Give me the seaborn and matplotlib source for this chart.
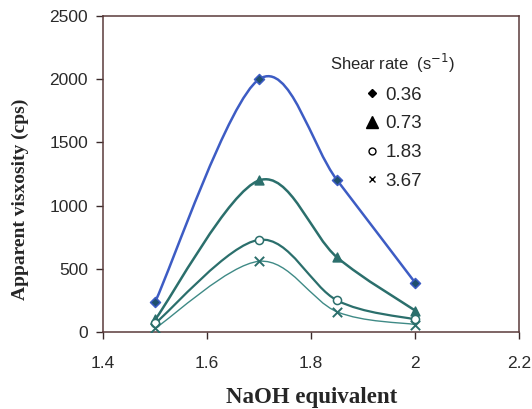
import numpy as np
import pandas as pd
import seaborn as sns
import matplotlib.pyplot as plt
from matplotlib.path import Path
from matplotlib.patches import PathPatch
from matplotlib.lines import Line2D

# Data
naoh_eq = [1.5, 1.7, 1.85, 2.0]
shear_rates = ["0.36", "0.73", "1.83", "3.67"]
visc_036 = [240, 2000, 1200, 390]
visc_073 = [100, 1200, 590, 170]
visc_183 = [70, 730, 250, 100]
visc_367 = [30, 560, 160, 60]

series = {"0.36": visc_036, "0.73": visc_073, "1.83": visc_183, "3.67": visc_367}
df = pd.DataFrame([(x, y, s) for s, ys in series.items() for x, y in zip(naoh_eq, ys)],
                  columns=["NaOH", "visc", "rate"])

line_col = {"0.36": "#3d5cc4", "0.73": "#2b6f6c", "1.83": "#2b6f6c", "3.67": "#3f8a86"}
line_w = {"0.36": 1.8, "0.73": 1.8, "1.83": 1.6, "3.67": 1.0}
mk = {"0.36": "D", "0.73": "^", "1.83": "o", "3.67": "x"}
mk_face = {"0.36": "#1f4f6e", "0.73": "#2b6f6c", "1.83": "white", "3.67": "#2b6f6c"}
mk_size = {"0.36": 26, "0.73": 40, "1.83": 34, "3.67": 45}


def smooth_path(xs, ys):
    # Excel-like smoothed line: cubic Bezier segments through the data points
    pts = np.column_stack([xs, ys]).astype(float)
    n = len(pts)
    verts = [pts[0]]
    codes = [Path.MOVETO]
    for i in range(n - 1):
        p0 = pts[i - 1] if i > 0 else pts[i]
        p1, p2 = pts[i], pts[i + 1]
        p3 = pts[i + 2] if i + 2 < n else pts[i + 1]
        c1 = p1 + (p2 - p0) / 6
        c2 = p2 - (p3 - p1) / 6
        verts += [c1, c2, p2]
        codes += [Path.CURVE4] * 3
    return Path(verts, codes)


sns.set_theme(style="white")
plt.rcParams['font.family'] = ['Liberation Sans', 'DejaVu Sans']

fig, ax = plt.subplots(figsize=(5.32, 4.09), dpi=100)
fig.subplots_adjust(left=0.194, right=0.976, bottom=0.188, top=0.961)

for rate in shear_rates:
    sub = df[df["rate"] == rate]
    ax.add_patch(PathPatch(smooth_path(sub["NaOH"], sub["visc"]), fill=False,
                           edgecolor=line_col[rate], lw=line_w[rate], zorder=2))
    if mk[rate] == "x":
        sns.scatterplot(data=sub, x="NaOH", y="visc", marker="x", color=mk_face[rate],
                        s=mk_size[rate], linewidth=1.4, ax=ax, zorder=3)
    else:
        sns.scatterplot(data=sub, x="NaOH", y="visc", marker=mk[rate], color=mk_face[rate],
                        edgecolor=line_col[rate], s=mk_size[rate], linewidth=1.1, ax=ax, zorder=3)

ax.set_xlim(1.4, 2.2)
ax.set_ylim(0, 2500)
ax.set_xticks([1.4, 1.6, 1.8, 2.0, 2.2])
ax.set_xticklabels(["1.4", "1.6", "1.8", "2", "2.2"])
ax.set_yticks([0, 500, 1000, 1500, 2000, 2500])
ax.tick_params(axis="both", direction="out", length=5, width=1, colors="#3a2a2a",
               labelsize=12.5, labelcolor="#2a2a2a", bottom=True, left=True)
ax.tick_params(axis="x", pad=12)
ax.tick_params(axis="y", pad=6)

for sp in ax.spines.values():
    sp.set_visible(True)
    sp.set_color("#5a3a3a")
    sp.set_linewidth(1.1)

ax.set_xlabel("NaOH equivalent", family=["Liberation Serif"], fontweight="bold",
              fontsize=16.5, va="center")
ax.set_ylabel("Apparent visxosity (cps)", family=["Liberation Serif"], fontweight="bold",
              fontsize=14, va="center")
ax.xaxis.set_label_coords(0.5, -0.208)
ax.yaxis.set_label_coords(-0.198, 0.42)

handles = [
    Line2D([], [], ls="none", marker="D", color="black", markersize=4.5),
    Line2D([], [], ls="none", marker="^", color="black", markersize=8),
    Line2D([], [], ls="none", marker="o", mfc="white", mec="black", markersize=5),
    Line2D([], [], ls="none", marker="x", color="black", markersize=5),
]
leg = ax.legend(handles, shear_rates, title="Shear rate  (s$^{-1}$)", frameon=False,
                loc="upper center", bbox_to_anchor=(0.695, 0.94), fontsize=13.5,
                title_fontsize=12, handletextpad=0.2, handlelength=1.0,
                labelspacing=0.62)

fig.savefig("out.png", dpi=100)
